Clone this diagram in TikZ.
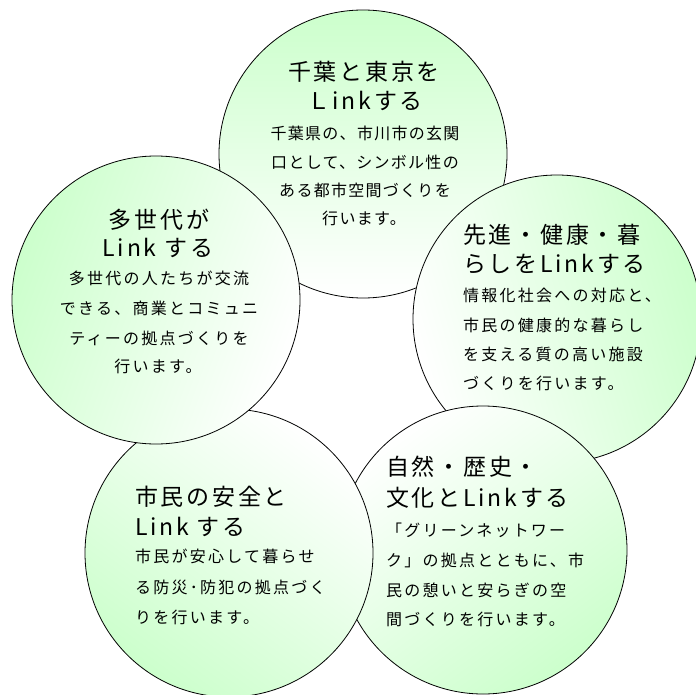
\documentclass[tikz,border=0pt]{standalone}
\usepackage{fontspec}
\newfontfamily\jptitle[LetterSpace=12]{Noto Sans CJK JP}
\newfontfamily\jpbody[LetterSpace=14]{Noto Sans CJK JP}
\newfontfamily\jpbodyt[LetterSpace=8]{Noto Sans CJK JP}
\definecolor{lg}{RGB}{204,255,204}
\begin{document}
\begin{tikzpicture}[x=1pt,y=-1pt,
  bub/.style={circle,draw=black,line width=0.8pt,minimum size=288pt,inner sep=0pt,top color=lg,bottom color=white},
  ttl/.style={font=\jptitle\fontsize{23}{28}\selectfont,inner sep=0pt,text=black},
  bdy/.style={font=\jpbody\fontsize{16}{20}\selectfont,inner sep=0pt,text=black},
  bdyt/.style={font=\jpbodyt\fontsize{16}{20}\selectfont,inner sep=0pt,text=black}]
\useasboundingbox (0,0) rectangle (695,695);
\fill[white] (0,0) rectangle (695,695);
% circles (stacking order: top, right, bottom-right, bottom-left, left)
\node[bub,shading angle=0]    (cT)  at (363,154) {};
\node[bub,shading angle=-74]  (cR)  at (557,319) {};
\node[bub,shading angle=-144] (cBR) at (483,550) {};
\node[bub,shading angle=144]  (cBL) at (229,553) {};
\node[bub,shading angle=70]   (cL)  at (156,300) {};
% top circle
\node[ttl] (t1) at (364,72) {千葉と東京を};
\node[ttl] (t2) at (365,101) {Ｌinkする};
\node[bdyt] (tb1) at (365,133) {千葉県の、市川市の玄関};
\node[bdyt] (tb2) at (365,162) {口として、シンボル性の};
\node[bdyt] (tb3) at (365,190) {ある都市空間づくりを};
\node[bdyt] (tb4) at (364,218) {行います。};
% left circle
\node[ttl] (l1) at (159,220) {多世代が};
\node[ttl] (l2) at (158,248) {Link する};
\node[bdy] (lb1) at (159,278) {多世代の人たちが交流};
\node[bdy] (lb2) at (159,308) {できる、商業とコミュニ};
\node[bdy] (lb3) at (159,338) {ティーの拠点づくりを};
\node[bdy] (lb4) at (158,366) {行います。};
% right circle
\node[ttl,anchor=west] (r1) at (463,235) {先進・健康・暮};
\node[ttl,anchor=west] (r2) at (463,264) {らしをLinkする};
\node[bdy,anchor=west] (rb1) at (463,295) {情報化社会への対応と、};
\node[bdy,anchor=west] (rb2) at (463,325) {市民の健康的な暮らし};
\node[bdy,anchor=west] (rb3) at (463,354) {を支える質の高い施設};
\node[bdy,anchor=west] (rb4) at (463,383) {づくりを行います。};
% bottom-left circle
\node[ttl,anchor=west] (bl1) at (135,497) {市民の安全と};
\node[ttl,anchor=west] (bl2) at (135,527) {Link する};
\node[bdy,anchor=west] (blb1) at (135,556) {市民が安心して暮らせ};
\node[bdy,anchor=west] (blb2) at (135,587) {る防災･防犯の拠点づく};
\node[bdy,anchor=west] (blb3) at (135,617) {りを行います。};
% bottom-right circle
\node[ttl,anchor=west] (br1) at (386,467) {自然・歴史・};
\node[ttl,anchor=west] (br2) at (386,498) {文化とLinkする};
\node[bdy,anchor=west] (brb1) at (386,530) {「グリーンネットワー};
\node[bdy,anchor=west] (brb2) at (386,560) {ク」の拠点とともに、市};
\node[bdy,anchor=west] (brb3) at (386,590) {民の憩いと安らぎの空};
\node[bdy,anchor=west] (brb4) at (386,619) {間づくりを行います。};
\end{tikzpicture}
\end{document}
